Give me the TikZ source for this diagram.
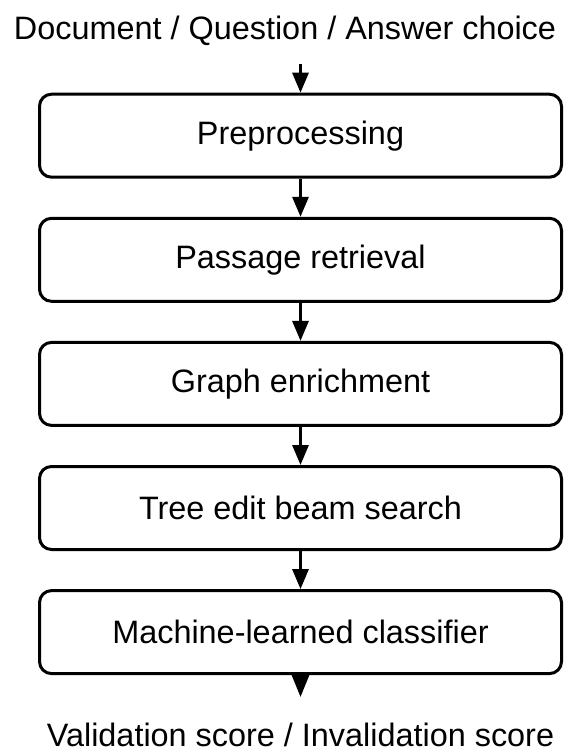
\documentclass[tikz,border=0pt]{standalone}
\usepackage{fontspec}
\setmainfont{Liberation Sans}
\usetikzlibrary{arrows.meta}
\begin{document}
\begin{tikzpicture}[x=1pt,y=-1pt,
  stage/.style={draw=black, line width=3pt, rounded corners=12pt,
    minimum width=522pt, minimum height=83pt, inner sep=0pt,
    font=\fontsize{32.4}{38}\selectfont},
  label/.style={inner sep=0pt, anchor=base, font=\fontsize{32.4}{38}\selectfont},
  flow/.style={line width=3pt, -{Triangle[length=20pt,width=16pt]}},
  endflow/.style={line width=3pt, -{Triangle[length=22pt,width=17pt]}}]
  \useasboundingbox (0,0) rectangle (566,753);

  \node[label] (inp) at (285,39) {Document / Question / Answer choice};
  \node[stage] (s1) at (300.5,135.7) {Preprocessing};
  \node[stage] (s2) at (300.5,259.8) {Passage retrieval};
  \node[stage] (s3) at (300.5,383.9) {Graph enrichment};
  \node[stage] (s4) at (300.5,508) {Tree edit beam search};
  \node[stage] (s5) at (300.5,632.1) {Machine-learned classifier};
  \node[label] (out) at (300.5,746) {Validation score / Invalidation score};

  \coordinate (instart) at (300.5,64);
  \coordinate (outtip) at (300.5,697);

  \draw[flow] (instart) -- (s1.north);
  \draw[flow] (s1) -- (s2);
  \draw[flow] (s2) -- (s3);
  \draw[flow] (s3) -- (s4);
  \draw[flow] (s4) -- (s5);
  \draw[endflow] (s5.south) -- (outtip);
\end{tikzpicture}
\end{document}
